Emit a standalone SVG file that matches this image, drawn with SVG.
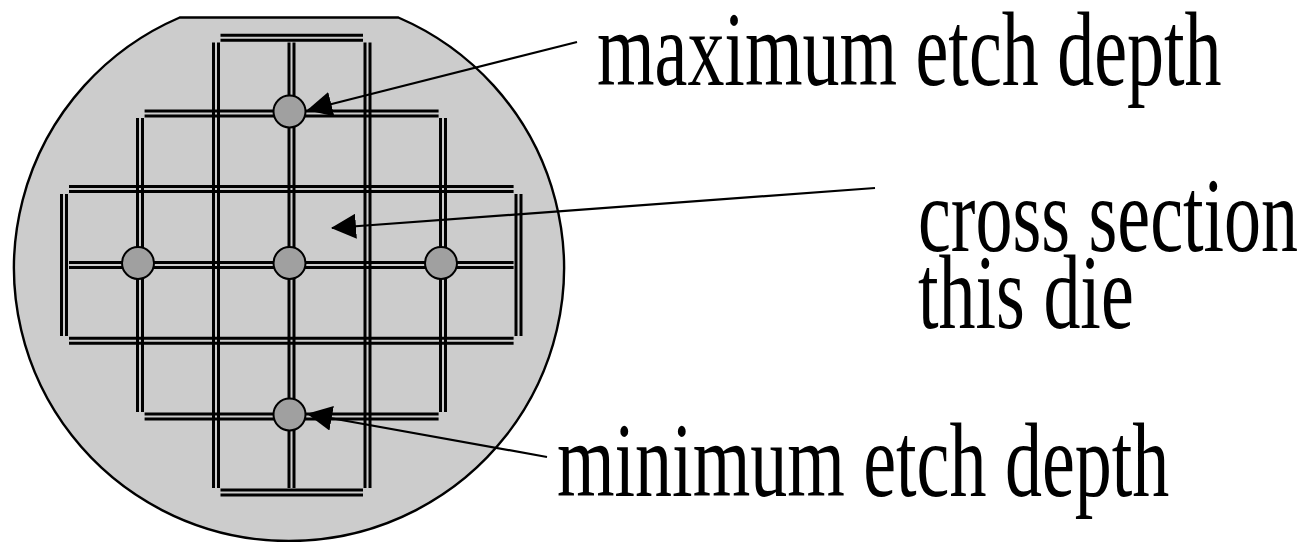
<svg xmlns="http://www.w3.org/2000/svg" width="1306" height="542" viewBox="0 0 1306 542">
  <style>
    .wafer { fill: #cccccc; stroke: #000; stroke-width: 2.4; }
    .dl { fill: none; stroke: #000; stroke-width: 3; }
    .dot { fill: #a0a0a0; stroke: #000; stroke-width: 2; }
    .conn { fill: none; stroke: #000; stroke-width: 2.2; marker-end: url(#arrow); }
    .lbl { font-family: "Liberation Serif", "Times New Roman", serif; font-size: 74px; fill: #000; }
  </style>
  <defs>
    <marker id="arrow" viewBox="0 0 25 25" refX="24" refY="12.5" markerWidth="25" markerHeight="25" markerUnits="userSpaceOnUse" orient="auto">
      <path d="M0,0 L25,12.5 L0,25 Z" fill="#000"/>
    </marker>
  </defs>

  <g id="wafer">
    <path class="wafer" d="M179.7,17.5 A275,273 0 1 0 398.3,17.5 Z"/>
  </g>

  <g id="grid">
    <!-- horizontal double lines -->
    <path class="dl" d="M220.5,35.2 H363 M220.5,40.2 H363"/>
    <path class="dl" d="M144.6,111 H438.6 M144.6,116 H438.6"/>
    <path class="dl" d="M69,186.5 H513.6 M69,191.5 H513.6"/>
    <path class="dl" d="M69,262.5 H513.6 M69,267.5 H513.6"/>
    <path class="dl" d="M69,338.3 H513.6 M69,343.3 H513.6"/>
    <path class="dl" d="M144.6,414.1 H438.6 M144.6,419.1 H438.6"/>
    <path class="dl" d="M220.5,490 H363 M220.5,495 H363"/>
    <!-- vertical double lines -->
    <path class="dl" d="M61.5,194 V336 M66.5,194 V336"/>
    <path class="dl" d="M137.5,118 V412 M142.5,118 V412"/>
    <path class="dl" d="M213.5,42.5 V488 M218.5,42.5 V488"/>
    <path class="dl" d="M289,42.5 V488 M294,42.5 V488"/>
    <path class="dl" d="M365,42.5 V488 M370,42.5 V488"/>
    <path class="dl" d="M440.5,118 V412 M445.5,118 V412"/>
    <path class="dl" d="M516,194 V336 M521,194 V336"/>
  </g>

  <g id="dot-top"><circle class="dot" cx="289.5" cy="111.5" r="16"/></g>
  <g id="dot-left"><circle class="dot" cx="138" cy="263" r="16"/></g>
  <g id="dot-center"><circle class="dot" cx="289.5" cy="263" r="16"/></g>
  <g id="dot-right"><circle class="dot" cx="441" cy="263" r="16"/></g>
  <g id="dot-bottom"><circle class="dot" cx="289.5" cy="414.5" r="16"/></g>

  <g id="connectors">
    <line class="conn" x1="577" y1="42" x2="308" y2="110"/>
    <line class="conn" x1="875" y1="188" x2="332" y2="228"/>
    <line class="conn" x1="547" y1="457" x2="308" y2="414"/>
  </g>

  <g id="label-max"><text class="lbl" transform="scale(1,1.42)" x="597" y="59.86">maximum etch depth</text></g>
  <g id="label-cross">
    <text class="lbl" transform="scale(1,1.42)" x="918" y="176.76">cross section</text>
    <text class="lbl" transform="scale(1,1.42)" x="918" y="230.99">this die</text>
  </g>
  <g id="label-min"><text class="lbl" transform="scale(1,1.42)" x="557" y="349.3">minimum etch depth</text></g>
</svg>
